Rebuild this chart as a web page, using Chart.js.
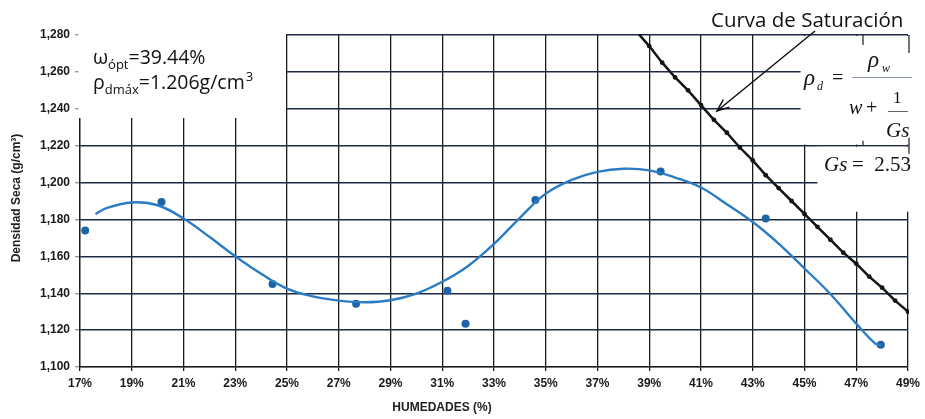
<!DOCTYPE html>
<html lang="es">
<head>
<meta charset="utf-8">
<title>Curva de compactación</title>
<script src="https://cdn.jsdelivr.net/npm/chart.js@4.4.1/dist/chart.umd.min.js"></script>
<style>
  html, body { margin: 0; padding: 0; background: #fff; }
  #wrap { width: 925px; height: 419px; position: relative; }
</style>
</head>
<body>
<div id="wrap"><canvas id="grafico"></canvas></div>
<script>
// Ensayos de compactación: humedad (%) y densidad seca (g/cm³)
const humedadEnsayo  = [17.2, 20.15, 24.44, 27.67, 31.2, 31.9, 34.6, 39.44, 43.5, 47.95];
const densidadEnsayo = [1.174, 1.1895, 1.145, 1.1343, 1.1414, 1.1235, 1.1905, 1.206, 1.1805, 1.112];

// Curva ajustada a los ensayos
const humedadAjuste  = [17.6, 18, 19, 20, 21, 22, 23, 24, 25, 26, 27, 28, 29, 30, 31, 32, 33,
                        34, 35, 36, 37, 38, 39, 40, 41, 42, 43, 44, 45, 46, 47, 47.75, 47.95];
const densidadAjuste = [1.1829, 1.1860, 1.1892, 1.1877, 1.1805, 1.1706, 1.1600, 1.1505, 1.1425,
                        1.1383, 1.1360, 1.1351, 1.1362, 1.1398, 1.1462, 1.1548, 1.1667, 1.1809,
                        1.1940, 1.2015, 1.2058, 1.2075, 1.2066, 1.2027, 1.1973, 1.1882, 1.1786,
                        1.1669, 1.1534, 1.1396, 1.1235, 1.1125, 1.1120];

// Curva de saturación (Gs = 2.53)
const humedadSat  = [38.5, 39, 39.5, 40, 40.5, 41, 41.5, 42, 42.5, 43, 43.5, 44, 44.5, 45,
                     45.5, 46, 46.5, 47, 47.5, 48, 48.5, 49];
const densidadSat = [1.282, 1.274, 1.265, 1.257, 1.250, 1.242, 1.234, 1.227, 1.219, 1.212, 1.204,
                     1.197, 1.190, 1.183, 1.176, 1.169, 1.162, 1.156, 1.149, 1.143, 1.136, 1.130];

// Marcas de los ejes
const ejeHumedad  = { min: 17, max: 49, paso: 2 };
const ejeDensidad = { min: 1.100, max: 1.280, paso: 0.020 };

const puntos = (xs, ys) => xs.map((x, i) => ({ x: x, y: ys[i] }));

const SANS = '"Liberation Sans", Arial, sans-serif';
const NOTA = '"Open Sans", "Noto Sans", sans-serif';
const SERIF = '"Liberation Serif", "DejaVu Serif", serif';

// Zonas en blanco, fórmula, notas y títulos de ejes
const anotaciones = {
  id: 'anotaciones',
  beforeDatasetsDraw(chart) {
    const { ctx, chartArea: a, scales: { x, y } } = chart;
    ctx.save();
    ctx.fillStyle = '#fff';
    // esquina libre para ω y ρ
    const x25 = x.getPixelForValue(25) - 1;
    ctx.fillRect(a.left - 1.5, a.top - 2, x25 - a.left + 1.5, y.getPixelForValue(1.235) - a.top + 2);
    // recuadro de la fórmula
    const fx = x.getPixelForValue(44.85);
    ctx.fillRect(fx, a.top + 1, a.right + 4 - fx, y.getPixelForValue(1.2206) - a.top - 1);
    const gx = x.getPixelForValue(45.5);
    const gy = y.getPixelForValue(1.2194);
    ctx.fillRect(gx, gy, a.right + 4 - gx, y.getPixelForValue(1.1842) - gy);

    // marcas cortas del recuadro
    ctx.strokeStyle = '#1b1b1b';
    ctx.lineWidth = 1.2;
    const y22 = y.getPixelForValue(1.22);
    const seg = (x1, y1, x2, y2) => { ctx.beginPath(); ctx.moveTo(x1, y1); ctx.lineTo(x2, y2); ctx.stroke(); };
    seg(863, a.top, 863, a.top + 10);
    seg(a.right + 1, a.top, a.right + 1, a.top + 18);
    seg(863, y22 - 5, 863, y22);
    seg(a.right + 1, y22 - 8, a.right + 1, y22 + 8);
    ctx.restore();
  },
  afterDraw(chart) {
    const { ctx } = chart;
    ctx.save();
    ctx.fillStyle = '#111';
    ctx.textBaseline = 'alphabetic';
    ctx.textAlign = 'left';

    // ω óptima y ρ máxima
    let cx = 93;
    ctx.font = '19.5px ' + NOTA;
    ctx.fillText('ω', cx, 64); cx += ctx.measureText('ω').width;
    ctx.font = '13px ' + NOTA;
    ctx.fillText('ópt', cx, 69); cx += ctx.measureText('ópt').width;
    ctx.font = '19.5px ' + NOTA;
    ctx.fillText('=39.44%', cx, 64);

    cx = 93;
    ctx.fillText('ρ', cx, 89); cx += ctx.measureText('ρ').width;
    ctx.font = '13px ' + NOTA;
    ctx.fillText('dmáx', cx, 94); cx += ctx.measureText('dmáx').width;
    ctx.font = '19.5px ' + NOTA;
    ctx.fillText('=1.206g/cm', cx, 89); cx += ctx.measureText('=1.206g/cm').width;
    ctx.font = '13px ' + NOTA;
    ctx.fillText('3', cx + 1, 81);

    // Curva de saturación con flecha
    ctx.font = '20.5px ' + NOTA;
    ctx.fillText('Curva de Saturación', 711, 27);
    ctx.strokeStyle = '#111';
    ctx.lineWidth = 1.5;
    const tip = [717, 111], tail = [815, 31];
    ctx.beginPath(); ctx.moveTo(tail[0], tail[1]); ctx.lineTo(tip[0], tip[1]); ctx.stroke();
    const ang = Math.atan2(tail[1] - tip[1], tail[0] - tip[0]);
    ctx.beginPath();
    ctx.moveTo(tip[0] + 13 * Math.cos(ang - 0.38), tip[1] + 13 * Math.sin(ang - 0.38));
    ctx.lineTo(tip[0], tip[1]);
    ctx.lineTo(tip[0] + 13 * Math.cos(ang + 0.38), tip[1] + 13 * Math.sin(ang + 0.38));
    ctx.stroke();

    // ρd = ρw / (w + 1/Gs)
    ctx.font = 'italic 23px ' + SERIF;
    ctx.fillText('ρ', 804, 85);
    ctx.font = 'italic 12px ' + SERIF;
    ctx.fillText('d', 817, 90);
    ctx.font = '20px ' + SERIF;
    ctx.fillText('=', 832, 84);
    ctx.font = 'italic 23px ' + SERIF;
    ctx.fillText('ρ', 868, 67);
    ctx.font = 'italic 12px ' + SERIF;
    ctx.fillText('w', 882, 72);
    ctx.strokeStyle = '#8a9ab5';
    ctx.lineWidth = 1;
    ctx.beginPath(); ctx.moveTo(852, 77.5); ctx.lineTo(912, 77.5); ctx.stroke();
    ctx.font = 'italic 20px ' + SERIF;
    ctx.fillText('w', 849, 114);
    ctx.font = '20px ' + SERIF;
    ctx.fillText('+', 866, 114);
    ctx.font = '17px ' + SERIF;
    ctx.fillText('1', 893, 103);
    ctx.strokeStyle = '#666';
    ctx.beginPath(); ctx.moveTo(888, 111.5); ctx.lineTo(908, 111.5); ctx.stroke();
    ctx.font = 'italic 21px ' + SERIF;
    ctx.fillText('Gs', 886, 137);

    // Gs = 2.53
    ctx.font = 'italic 21px ' + SERIF;
    ctx.fillText('Gs', 824, 171);
    ctx.font = '21px ' + SERIF;
    ctx.fillText('=  2.53', 852, 171);

    // títulos de los ejes
    ctx.font = 'bold 12px ' + SANS;
    ctx.fillStyle = '#222';
    ctx.textAlign = 'center';
    ctx.textBaseline = 'middle';
    ctx.fillText('HUMEDADES (%)', 442, 408);
    ctx.translate(17, 198);
    ctx.rotate(-Math.PI / 2);
    ctx.fillText('Densidad Seca (g/cm³)', 0, 0);
    ctx.restore();
  }
};

new Chart(document.getElementById('grafico'), {
  type: 'scatter',
  data: {
    datasets: [
      {
        label: 'Ajuste',
        data: puntos(humedadAjuste, densidadAjuste),
        showLine: true,
        borderColor: '#2a7cc4',
        borderWidth: 2.4,
        pointRadius: 0,
        tension: 0.4
      },
      {
        label: 'Ensayos',
        data: puntos(humedadEnsayo, densidadEnsayo),
        showLine: false,
        pointRadius: 4,
        pointBackgroundColor: '#1d63a6',
        pointBorderWidth: 0
      },
      {
        label: 'Curva de Saturación',
        data: puntos(humedadSat, densidadSat),
        showLine: true,
        borderColor: '#141414',
        borderWidth: 2.5,
        pointRadius: 2.4,
        pointBackgroundColor: '#141414',
        pointBorderWidth: 0,
        tension: 0,
        clip: 1
      }
    ]
  },
  options: {
    responsive: true,
    maintainAspectRatio: false,
    animation: false,
    events: [],
    layout: { padding: { top: 35, right: 12, left: 0, bottom: 0 } },
    plugins: { legend: { display: false }, tooltip: { enabled: false } },
    scales: {
      x: {
        type: 'linear',
        min: ejeHumedad.min,
        max: ejeHumedad.max,
        afterFit: (s) => { s.height = 52; },
        ticks: {
          stepSize: ejeHumedad.paso,
          callback: (v) => v + '%',
          font: { family: SANS, size: 12, weight: 'bold' },
          color: '#1a1a1a',
          padding: 5,
          maxRotation: 0,
          autoSkip: false
        },
        grid: { color: '#1b1b1b', lineWidth: 1.3, tickLength: 4 },
        border: { color: '#1b1b1b', width: 1.3 }
      },
      y: {
        min: ejeDensidad.min,
        max: ejeDensidad.max,
        afterFit: (s) => { s.width = 80; },
        ticks: {
          stepSize: ejeDensidad.paso,
          callback: (v) => v.toFixed(3).replace('.', ','),
          font: { family: SANS, size: 12, weight: 'bold' },
          color: '#1a1a1a',
          padding: 5,
          autoSkip: false
        },
        grid: { color: '#1e2a44', lineWidth: 1.4, tickLength: 5, tickColor: '#999' },
        border: { color: '#1b1b1b', width: 1.3 }
      }
    }
  },
  plugins: [anotaciones]
});
</script>
</body>
</html>
